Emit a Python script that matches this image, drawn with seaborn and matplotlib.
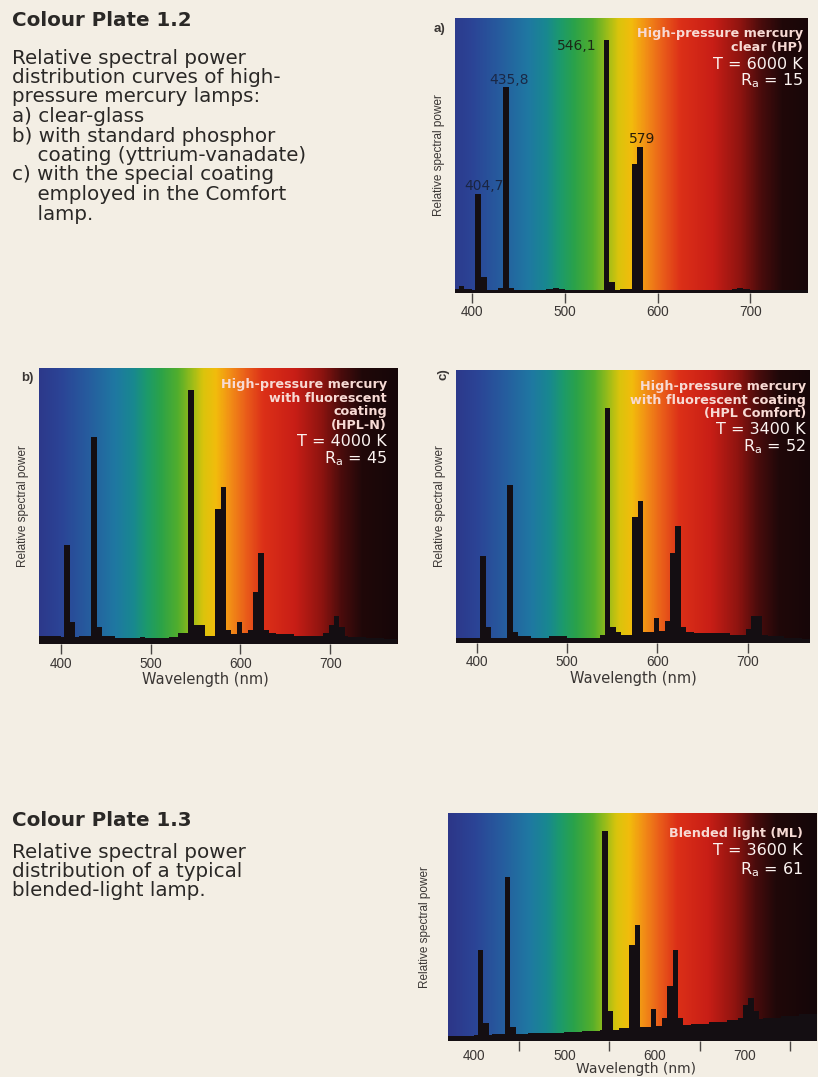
import numpy as np
import pandas as pd
import matplotlib
matplotlib.use("Agg")
import matplotlib.pyplot as plt
from matplotlib.colors import LinearSegmentedColormap
import seaborn as sns

# ------------------------------------------------------------------ data
# Broad continuum, 20 nm bins (centres in nm)
cont_nm = [370, 390, 410, 430, 450, 470, 490, 510, 530, 550, 570,
           590, 610, 630, 650, 670, 690, 710, 730, 750, 770, 790]

# a) clear-glass high-pressure mercury lamp (HP)
lines_a_nm = [389, 404.7, 411, 429, 435.8, 441, 490, 546.1, 551, 577, 579, 690]
lines_a_pw = [0.025, 0.36, 0.06, 0.02, 0.75, 0.02, 0.02, 0.92, 0.04, 0.47, 0.53, 0.02]
cont_a_pw = [0.015, 0.015, 0.012, 0.012, 0.011, 0.012, 0.013, 0.012, 0.011, 0.012, 0.013,
             0.012, 0.011, 0.011, 0.012, 0.012, 0.013, 0.012, 0.011, 0.011, 0.012, 0.012]
peak_labels_a = ["404,7", "435,8", "546,1", "579"]
peak_nm_a = [404.7, 435.8, 546.1, 579]

# b) with standard phosphor coating (HPL-N)
lines_b_nm = [386, 404.7, 411, 429, 435.8, 441, 491, 533, 539, 546.1, 551, 557, 569,
              577, 579, 587, 599, 605, 613, 619, 625, 631, 695, 701, 707, 713]
lines_b_pw = [0.03, 0.36, 0.08, 0.03, 0.75, 0.06, 0.025, 0.04, 0.04, 0.92, 0.07, 0.07, 0.03,
              0.49, 0.57, 0.05, 0.08, 0.03, 0.05, 0.19, 0.33, 0.05, 0.04, 0.07, 0.10, 0.06]
cont_b_pw = [0.03, 0.03, 0.025, 0.03, 0.028, 0.022, 0.02, 0.02, 0.025, 0.025, 0.03,
             0.035, 0.04, 0.04, 0.035, 0.03, 0.028, 0.03, 0.025, 0.02, 0.018, 0.018]

# c) with the special coating of the Comfort lamp (HPL Comfort)
lines_c_nm = [404.7, 411, 435.8, 441, 491, 539, 546.1, 551, 557, 577, 579, 587,
              599, 605, 613, 619, 625, 631, 701, 707, 713, 719]
lines_c_pw = [0.32, 0.06, 0.58, 0.04, 0.025, 0.03, 0.86, 0.06, 0.04, 0.46, 0.52, 0.04,
              0.09, 0.04, 0.08, 0.33, 0.43, 0.06, 0.05, 0.10, 0.10, 0.03]
cont_c_pw = [0.02, 0.02, 0.02, 0.02, 0.025, 0.02, 0.025, 0.02, 0.02, 0.025, 0.03,
             0.04, 0.045, 0.04, 0.035, 0.035, 0.03, 0.03, 0.025, 0.02, 0.015, 0.015]

# Blended-light lamp (ML)
lines_d_nm = [404.7, 411, 435.8, 441, 546.1, 551, 577, 579, 599, 613, 619, 625, 631,
              695, 701, 707, 713]
lines_d_pw = [0.40, 0.08, 0.72, 0.06, 0.92, 0.13, 0.42, 0.51, 0.14, 0.10, 0.24, 0.40, 0.10,
              0.10, 0.16, 0.19, 0.13]
cont_d_pw = [0.02, 0.02, 0.025, 0.03, 0.03, 0.035, 0.035, 0.04, 0.045, 0.05, 0.055,
             0.06, 0.065, 0.07, 0.075, 0.085, 0.09, 0.095, 0.10, 0.11, 0.12, 0.12]

tick_nm = [400, 500, 600, 700]
minor_tick_nm = [450, 550, 650, 750]

# ------------------------------------------------------------------ style
PAGE = "#f3eee4"
INK = "#140e12"
TEXT = "#2a2826"
AXTXT = "#3a3634"
W, H = 818, 1077

sns.set_theme(style="white")
plt.rcParams["font.family"] = ["DejaVu Sans"]

# visible-spectrum backdrop (wavelength -> colour)
spec_stops = [
    (370, "#2d3688"), (400, "#2b4496"), (430, "#265c9e"), (460, "#1f78a2"),
    (480, "#188890"), (495, "#1c9a6c"), (510, "#2aa24a"), (530, "#52ae2c"),
    (545, "#98bc1a"), (558, "#dac40c"), (572, "#f2bc0c"), (588, "#f28e16"),
    (605, "#ea5f1a"), (625, "#dc3018"), (660, "#c81e16"), (690, "#8e1410"),
    (712, "#4a0c0c"), (735, "#200809"), (780, "#140608"),
]
lo, hi = 370.0, 780.0
spec_cmap = LinearSegmentedColormap.from_list(
    "spectrum", [((w - lo) / (hi - lo), c) for w, c in spec_stops])

fig = plt.figure(figsize=(W / 100, H / 100), dpi=100)
fig.patch.set_facecolor(PAGE)


def px_axes(x0, y0, x1, y1):
    return fig.add_axes([x0 / W, 1 - y1 / H, (x1 - x0) / W, (y1 - y0) / H])


def spectrum_panel(ax, xlim, lines_nm, lines_pw, cont_pw, xlabel_x=None,
                   minor=False, ylabelpad=7):
    grid = np.linspace(xlim[0], xlim[1], 800)[None, :]
    ax.imshow(grid, extent=[xlim[0], xlim[1], 0, 1], aspect="auto", cmap=spec_cmap,
              vmin=lo, vmax=hi, interpolation="bilinear", zorder=0)
    cont = pd.DataFrame({"nm": cont_nm, "power": cont_pw})
    lines = pd.DataFrame({"nm": lines_nm, "power": lines_pw})
    sns.histplot(data=cont, x="nm", weights="power", binwidth=20, binrange=(360, 800),
                 color=INK, alpha=1, linewidth=0, ax=ax, zorder=2)
    sns.histplot(data=lines, x="nm", weights="power", binwidth=6, binrange=(380, 782),
                 color=INK, alpha=1, linewidth=0, ax=ax, zorder=3)
    ax.set_xlim(*xlim)
    ax.set_ylim(0, 1)
    for s in ax.spines.values():
        s.set_visible(False)
    ax.set_yticks([])
    ax.set_xticks(tick_nm)
    ax.set_xticklabels([str(t) for t in tick_nm], family="Liberation Sans")
    ax.tick_params(axis="x", which="both", direction="out", length=7, width=1,
                   color="#4a4644", labelsize=9.8, labelcolor=AXTXT, pad=2,
                   bottom=True)
    xl_size, xl_pad = 10.5, 1
    if minor:
        # only the intermediate ticks are marked on this plate
        ax.set_xticks(minor_tick_nm, minor=True)
        ax.tick_params(axis="x", which="major", length=0, pad=6)
        xl_size, xl_pad = 10, -1
    ax.set_ylabel("Relative spectral power", fontsize=8.5, color=AXTXT,
                  family="Liberation Sans", labelpad=ylabelpad)
    if xlabel_x is not None:
        ax.set_xlabel("Wavelength (nm)", fontsize=xl_size, color=AXTXT,
                      family="DejaVu Sans", labelpad=xl_pad, x=xlabel_x, ha="center")
    else:
        ax.set_xlabel("")


def legend_block(ax, x, rows):
    for y, txt, bold in rows:
        if bold:
            ax.text(x, y, txt, transform=ax.transAxes, ha="right", va="center",
                    fontsize=9.2, fontweight="bold", color="#f7dad4", zorder=5)
        else:
            ax.text(x, y, txt, transform=ax.transAxes, ha="right", va="center",
                    fontsize=11.5, color="#fbf3f0", zorder=5)


# ---- a) clear glass
ax_a = px_axes(455, 18, 808, 293)
spectrum_panel(ax_a, (382, 762), lines_a_nm, lines_a_pw, cont_a_pw)
offsets = [(5.5, 5.8, "center", "#1a2542"), (2.8, 5.0, "center", "#1a2846"),
           (-7.5, -4.3, "right", "#1c2a16"), (2.7, 5.8, "center", "#2a1c0a")]
for lab, wl, (dx, dy, ha, col) in zip(peak_labels_a, peak_nm_a, offsets):
    pw = lines_a_pw[lines_a_nm.index(wl)]
    ax_a.annotate(lab, xy=(wl, pw), xytext=(dx, dy), textcoords="offset points",
                  ha=ha, va="center", fontsize=10, color=col, zorder=5)
legend_block(ax_a, 0.985, [
    (0.945, "High-pressure mercury", True),
    (0.891, "clear (HP)", True),
    (0.832, "T = 6000 K", False),
    (0.772, r"R$_\mathregular{a}$ = 15", False),
])

# ---- b) standard phosphor
ax_b = px_axes(39, 368, 397, 644)
spectrum_panel(ax_b, (376, 774), lines_b_nm, lines_b_pw, cont_b_pw, xlabel_x=0.465)
legend_block(ax_b, 0.972, [
    (0.940, "High-pressure mercury", True),
    (0.891, "with fluorescent", True),
    (0.842, "coating", True),
    (0.793, "(HPL-N)", True),
    (0.734, "T = 4000 K", False),
    (0.672, r"R$_\mathregular{a}$ = 45", False),
])

# ---- c) Comfort coating
ax_c = px_axes(456, 370, 810, 643)
spectrum_panel(ax_c, (377, 769), lines_c_nm, lines_c_pw, cont_c_pw, xlabel_x=0.5)
legend_block(ax_c, 0.988, [
    (0.940, "High-pressure mercury", True),
    (0.890, "with fluorescent coating", True),
    (0.840, "(HPL Comfort)", True),
    (0.782, "T = 3400 K", False),
    (0.718, r"R$_\mathregular{a}$ = 52", False),
])

# ---- blended light
ax_d = px_axes(448, 813, 817, 1041)
spectrum_panel(ax_d, (371, 780), lines_d_nm, lines_d_pw, cont_d_pw, xlabel_x=0.51,
               minor=True, ylabelpad=12)
legend_block(ax_d, 0.962, [
    (0.912, "Blended light (ML)", True),
    (0.836, "T = 3600 K", False),
    (0.752, r"R$_\mathregular{a}$ = 61", False),
])

# ---- panel letters
fig.text(439 / W, 1 - 29 / H, "a)", ha="center", va="center", fontsize=9.5,
         fontweight="bold", color=AXTXT, family="Liberation Sans")
fig.text(27 / W, 1 - 378 / H, "b)", ha="center", va="center", fontsize=9.5,
         fontweight="bold", color=AXTXT, family="Liberation Sans")
fig.text(444 / W, 1 - 374 / H, "c)", ha="center", va="center", fontsize=9.5,
         fontweight="bold", color=AXTXT, family="Liberation Sans", rotation=90)


# ---- captions
def caption(y_head, head, y0, lines, step=19.5):
    fig.text(12 / W, 1 - y_head / H, head, ha="left", va="center", fontsize=14.3,
             fontweight="bold", color=TEXT)
    for i, ln in enumerate(lines):
        fig.text(12 / W, 1 - (y0 + i * step) / H, ln, ha="left", va="center",
                 fontsize=14.3, color=TEXT)


caption(21, "Colour Plate 1.2", 58, [
    "Relative spectral power",
    "distribution curves of high-",
    "pressure mercury lamps:",
    "a) clear-glass",
    "b) with standard phosphor",
    "    coating (yttrium-vanadate)",
    "c) with the special coating",
    "    employed in the Comfort",
    "    lamp.",
])
caption(820, "Colour Plate 1.3", 853, [
    "Relative spectral power",
    "distribution of a typical",
    "blended-light lamp.",
], step=18.5)

fig.savefig("out.png", dpi=100, facecolor=PAGE)
